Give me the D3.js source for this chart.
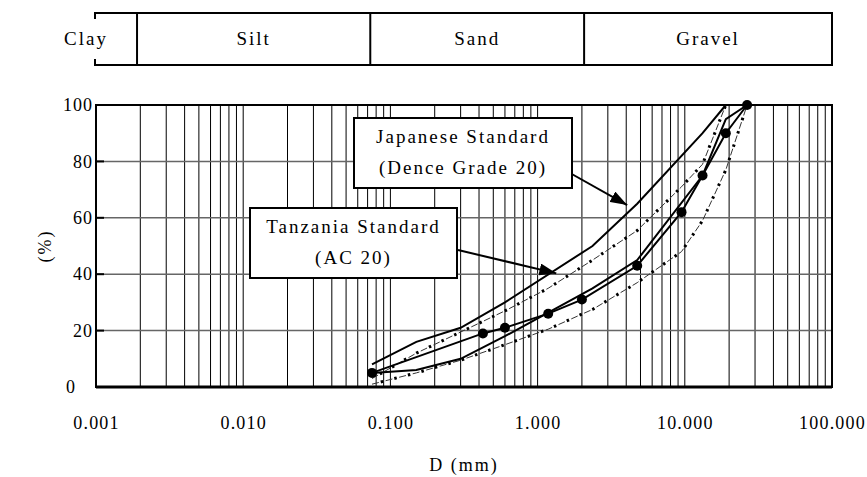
<!DOCTYPE html>
<html>
<head>
<meta charset="utf-8">
<script src="https://cdn.jsdelivr.net/npm/d3@7"></script>
<style>
  body { margin: 0; background: #fff; }
  svg text { font-family: "Liberation Serif", "Times New Roman", serif; fill: #000; }
</style>
</head>
<body>
<div id="chart"></div>
<script>
// axis ticks
var xTicks = [0.001, 0.01, 0.1, 1, 10, 100];
var xTickLabels = ["0.001", "0.010", "0.100", "1.000", "10.000", "100.000"];
var yTicks = [0, 20, 40, 60, 80, 100];

// soil classes on the top band (boundaries in mm)
var soilNames = ["Clay", "Silt", "Sand", "Gravel"];
var soilBounds = [0.001, 0.0019, 0.073, 2.07, 100];

// Japanese standard (dense grade 20), upper / lower limits
var jpUpperD = [0.075, 0.15, 0.3, 0.6, 2.36, 4.75, 13.2, 19];
var jpUpperP = [8, 16, 21, 30, 50, 65, 90, 100];
var jpLowerD = [0.075, 0.15, 0.3, 0.6, 2.36, 4.75, 13.2, 19, 26.5];
var jpLowerP = [5, 6, 10, 18, 35, 45, 75, 95, 100];

// Tanzania standard (AC 20), upper / lower limits
var tzUpperD = [0.075, 0.15, 0.3, 0.6, 1.18, 2.36, 4.75, 9.5, 13.2, 19];
var tzUpperP = [3, 12, 19.5, 27, 35, 45, 55.5, 71, 79, 100];
var tzLowerD = [0.075, 0.15, 0.3, 0.6, 1.18, 2.36, 4.75, 9.5, 13.2, 19, 26.5];
var tzLowerP = [1, 5, 9.5, 15, 20.5, 27.5, 37, 48, 59, 77, 100];

// measured gradation (with markers)
var mixD = [0.075, 0.425, 0.6, 1.18, 2.0, 4.75, 9.5, 13.2, 19, 26.5];
var mixP = [5, 19, 21, 26, 31, 43, 62, 75, 90, 100];

// ---------------------------------------------------------------
var width = 867, height = 477;
var margin = { top: 105, right: 35, bottom: 90, left: 96 };

var svg = d3.select('#chart').append('svg')
    .attr('width', width)
    .attr('height', height);

var x = d3.scaleLog().domain([0.001, 100]).range([margin.left, width - margin.right]);
var y = d3.scaleLinear().domain([0, 100]).range([height - margin.bottom, margin.top]);

function zip(a, b) { return a.map(function (d, i) { return [d, b[i]]; }); }

var line = d3.line()
    .x(function (d) { return x(d[0]); })
    .y(function (d) { return y(d[1]); });

// ---- top band (soil classes)
var bandTop = 13, bandBot = 65;
var band = svg.append('g');
band.append('rect')
    .attr('x', x(0.001) - 1).attr('y', bandTop)
    .attr('width', x(100) - x(0.001) + 1).attr('height', bandBot - bandTop)
    .attr('fill', 'none').attr('stroke', '#000').attr('stroke-width', 2);
band.selectAll('.div')
    .data(soilBounds.slice(1, -1))
    .enter().append('line')
    .attr('x1', function (d) { return x(d); }).attr('x2', function (d) { return x(d); })
    .attr('y1', bandTop).attr('y2', bandBot)
    .attr('stroke', '#000').attr('stroke-width', 2);
// white box under "Clay" hides part of the left border
band.append('rect')
    .attr('x', 60).attr('y', bandTop + 6).attr('width', 48).attr('height', bandBot - bandTop - 12)
    .attr('fill', '#fff');
band.selectAll('.soil')
    .data(soilNames)
    .enter().append('text')
    .attr('x', function (d, i) {
      if (i === 0) return 86;
      return (x(soilBounds[i]) + x(soilBounds[i + 1])) / 2;
    })
    .attr('y', (bandTop + bandBot) / 2 + 6)
    .attr('text-anchor', 'middle')
    .style('font-size', '19px')
    .style('letter-spacing', '2px')
    .text(function (d) { return d; });

// ---- grid
var grid = svg.append('g');
grid.selectAll('.vg')
    .data(x.ticks().filter(function (d) { return d > 0.001 && d < 100; }))
    .enter().append('line')
    .attr('x1', function (d) { return x(d); }).attr('x2', function (d) { return x(d); })
    .attr('y1', y(0)).attr('y2', y(100))
    .attr('stroke', '#000').attr('stroke-width', 1);
grid.selectAll('.hg')
    .data(yTicks.slice(1, -1))
    .enter().append('line')
    .attr('x1', x(0.001)).attr('x2', x(100))
    .attr('y1', function (d) { return y(d); }).attr('y2', function (d) { return y(d); })
    .attr('stroke', '#666').attr('stroke-width', 1.5);
// short inner ticks on the left edge
grid.selectAll('.yt')
    .data(yTicks.slice(1, -1))
    .enter().append('line')
    .attr('x1', x(0.001)).attr('x2', x(0.001) + 8)
    .attr('y1', function (d) { return y(d); }).attr('y2', function (d) { return y(d); })
    .attr('stroke', '#000').attr('stroke-width', 2);

// ---- curves
var curves = svg.append('g').attr('fill', 'none').attr('stroke', '#000');

// Tanzania limits: thin dashes with heavy dots between
[zip(tzUpperD, tzUpperP), zip(tzLowerD, tzLowerP)].forEach(function (pts) {
  curves.append('path').attr('d', line(pts))
      .attr('stroke-width', 1).attr('stroke', '#333')
      .attr('stroke-dasharray', '7,7');
  curves.append('path').attr('d', line(pts))
      .attr('stroke-width', 3)
      .attr('stroke-dasharray', '2.5,11.5').attr('stroke-dashoffset', 5);
});

// Japanese limits: solid
[zip(jpUpperD, jpUpperP), zip(jpLowerD, jpLowerP)].forEach(function (pts) {
  curves.append('path').attr('d', line(pts)).attr('stroke-width', 2);
});

// mix with markers
var mix = zip(mixD, mixP);
curves.append('path').attr('d', line(mix)).attr('stroke-width', 2);
svg.append('g').selectAll('circle')
    .data(mix)
    .enter().append('circle')
    .attr('cx', function (d) { return x(d[0]); })
    .attr('cy', function (d) { return y(d[1]); })
    .attr('r', 5)
    .attr('fill', '#000');

// ---- frame
svg.append('rect')
    .attr('x', x(0.001)).attr('y', y(100))
    .attr('width', x(100) - x(0.001)).attr('height', y(0) - y(100))
    .attr('fill', 'none').attr('stroke', '#000').attr('stroke-width', 2);
svg.append('line')
    .attr('x1', x(0.001)).attr('x2', x(100))
    .attr('y1', y(0)).attr('y2', y(0))
    .attr('stroke', '#000').attr('stroke-width', 3);

// ---- axes
var xAxis = d3.axisBottom(x)
    .tickValues(xTicks)
    .tickSize(0)
    .tickPadding(29)
    .tickFormat(function (d, i) { return xTickLabels[i]; });
var gx = svg.append('g').attr('transform', 'translate(0,' + y(0) + ')').call(xAxis);
gx.select('.domain').remove();
gx.selectAll('text')
    .style('font-family', '"Liberation Serif", serif')
    .style('font-size', '18px')
    .style('letter-spacing', '1.2px');

var yAxis = d3.axisLeft(y)
    .tickValues(yTicks)
    .tickSize(0)
    .tickPadding(3)
    .tickFormat(d3.format('d'));
var gy = svg.append('g').attr('transform', 'translate(' + x(0.001) + ',0)').call(yAxis);
gy.select('.domain').remove();
gy.selectAll('text')
    .style('font-family', '"Liberation Serif", serif')
    .style('font-size', '18px')
    .style('letter-spacing', '1px');
// the zero label sits further left in the original
gy.selectAll('text').filter(function (d) { return d === 0; }).attr('dx', -17);

svg.append('text')
    .attr('x', (x(0.001) + x(100)) / 2)
    .attr('y', 471)
    .attr('text-anchor', 'middle')
    .style('font-size', '18px')
    .style('letter-spacing', '2px')
    .text('D (mm)');

svg.append('text')
    .attr('transform', 'translate(51,' + ((y(0) + y(100)) / 2) + ') rotate(-90)')
    .attr('text-anchor', 'middle')
    .style('font-size', '18px')
    .style('letter-spacing', '2px')
    .text('(%)');

// ---- callouts
var defs = svg.append('defs');
defs.append('marker')
    .attr('id', 'head')
    .attr('viewBox', '0 0 17 12')
    .attr('refX', 17).attr('refY', 6)
    .attr('markerWidth', 17).attr('markerHeight', 12)
    .attr('markerUnits', 'userSpaceOnUse')
    .attr('orient', 'auto')
    .append('path').attr('d', 'M0,0L17,6L0,12Z').attr('fill', '#000');

var callouts = [
  { lines: ['Japanese Standard', '(Dence Grade 20)'], box: [354, 118, 218, 70],
    from: [570, 173], to: [4.06, 64.5] },
  { lines: ['Tanzania Standard', '(AC 20)'], box: [250, 208, 207, 70],
    from: [458, 250], to: [1.34, 40.3] }
];

callouts.forEach(function (c) {
  svg.append('line')
      .attr('x1', c.from[0]).attr('y1', c.from[1])
      .attr('x2', x(c.to[0])).attr('y2', y(c.to[1]))
      .attr('stroke', '#000').attr('stroke-width', 2)
      .attr('marker-end', 'url(#head)');
  svg.append('rect')
      .attr('x', c.box[0]).attr('y', c.box[1])
      .attr('width', c.box[2]).attr('height', c.box[3])
      .attr('fill', '#fff').attr('stroke', '#000').attr('stroke-width', 2);
  c.lines.forEach(function (t, i) {
    svg.append('text')
        .attr('x', c.box[0] + c.box[2] / 2)
        .attr('y', c.box[1] + 25 + i * 31)
        .attr('text-anchor', 'middle')
        .style('font-size', '19px')
        .style('letter-spacing', '2px')
        .text(t);
  });
});
</script>
</body>
</html>
